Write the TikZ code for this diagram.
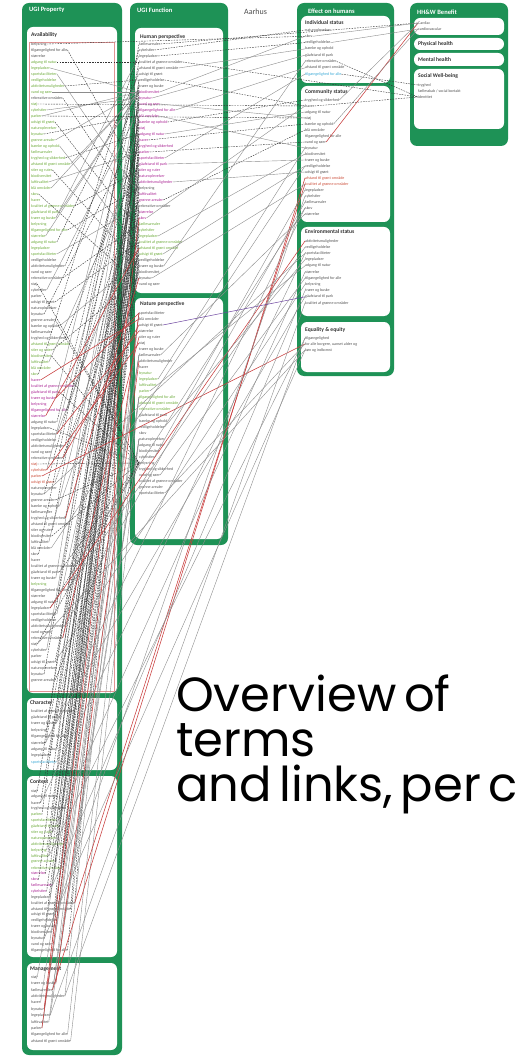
\documentclass[tikz,border=0pt]{standalone}
\usepackage{fontspec}
\newfontfamily\carl{Carlito}
\newfontfamily\titlef{Poppins}[WordSpace=0.6]
\definecolor{ugigreen}{RGB}{30,146,86}
\definecolor{idark}{RGB}{85,85,85}
\definecolor{igreen}{RGB}{110,172,60}
\definecolor{imag}{RGB}{172,40,150}
\definecolor{ired}{RGB}{205,80,60}
\definecolor{icyan}{RGB}{60,170,215}
\definecolor{lred}{RGB}{200,60,60}
\definecolor{lpurp}{RGB}{110,70,160}
\newcommand\itemtext[1]{\ifcase#1 afstand til grønt område\or adgang til natur\or grønne arealer\or træer og buske\or parker\or skov\or vand og søer\or stier og ruter\or legepladser\or bænke og ophold\or belysning\or udsigt til grønt\or haver\or rekreative områder\or biodiversitet\or sportsfaciliteter\or fællesarealer\or tilgængelighed for alle\or naturoplevelser\or kvalitet af grønne områder\or støj\or luftkvalitet\or vedligeholdelse\or tryghed og sikkerhed\or størrelse\or bynatur\or gåafstand til park\or cykelstier\or blå områder\or aktivitetsmuligheder\fi}
\newcommand\setcol[3]{\ifnum\i>\numexpr#1-1\relax\ifnum\i<\numexpr#2+1\relax\def\icol{#3}\fi\fi}
\begin{document}
\begin{tikzpicture}[x=1pt,y=-1pt,
  panel/.style={fill=ugigreen,rounded corners=7pt},
  wbox/.style={fill=white,rounded corners=6pt},
  hdr/.style={anchor=west,inner sep=0pt,text=white,font=\carl\bfseries\fontsize{6.5}{7}\selectfont},
  bhdr/.style={anchor=west,inner sep=0pt,text=black!80,font=\carl\bfseries\fontsize{5.6}{6}\selectfont},
  item/.style={anchor=west,inner sep=0pt,font=\carl\fontsize{4}{4.5}\selectfont},
  lk/.style={line width=0.4pt,draw=black!80,dash pattern=on 1.6pt off 1.1pt},
  lg/.style={line width=0.4pt,draw=black!45},
  lr/.style={line width=0.55pt,draw=lred},
  lp/.style={line width=0.5pt,draw=lpurp}]
\useasboundingbox (0,0) rectangle (519,1056);
\begin{scope}
\clip (0,0) rectangle (519,1056);
% panels
\fill[panel] (22,3) rectangle (122,1055);
\fill[panel] (130,3) rectangle (228,545);
\fill[panel] (297,3) rectangle (394,376);
\fill[panel] (410,3) rectangle (508,146);
% white boxes
\fill[wbox] (27,27) rectangle (117,693);
\fill[wbox] (27,698) rectangle (117,770);
\fill[wbox] (27,776) rectangle (117,957);
\fill[wbox] (27,963) rectangle (117,1050);
\fill[wbox] (135,28) rectangle (223,293);
\fill[wbox] (135,298) rectangle (223,539);
\fill[wbox] (301,16) rectangle (390,83);
\fill[wbox] (301,86) rectangle (390,222);
\fill[wbox] (301,227) rectangle (390,316);
\fill[wbox] (301,322) rectangle (390,372);
\fill[wbox] (414,18) rectangle (504,35);
\fill[wbox] (414,38) rectangle (504,50);
\fill[wbox] (414,53) rectangle (504,66);
\fill[wbox] (414,69) rectangle (504,129);
\draw[lred!55,line width=0.5pt] (29,42) rectangle (114,691);
% headers
\node[hdr] (hP) at (29,10) {UGI Property};
\node[hdr] (hF) at (137,10) {UGI Function};
\node[hdr] (hE) at (308,11) {Effect on humans};
\node[hdr] (hB) at (417,12) {HH\&W Benefit};
\node[anchor=west,inner sep=0pt,text=black!70,font=\carl\fontsize{8}{9}\selectfont] (city) at (244,12) {Aarhus};
\node[bhdr] (bAv) at (31,35) {Availability};
\node[bhdr] (bCh) at (30,703) {Character};
\node[bhdr] (bCx) at (30,782) {Context};
\node[bhdr] (bMg) at (30,969) {Management};
\node[bhdr] (bHp) at (140,37) {Human perspective};
\node[bhdr] (bNp) at (140,304) {Nature perspective};
\node[bhdr] (bIs) at (305,23) {Individual status};
\node[bhdr] (bCs) at (305,92) {Community status};
\node[bhdr] (bEs) at (305,232) {Environmental status};
\node[bhdr] (bEq) at (305,330) {Equality \& equity};
\node[bhdr] (bPh) at (418,44) {Physical health};
\node[bhdr] (bMh) at (418,60) {Mental health};
\node[bhdr] (bSw) at (418,76) {Social Well-being};
% items: availability
\foreach \i in {1,...,107}{
  \pgfmathtruncatemacro\w{mod(\i*7+3,30)}
  \def\icol{idark}
  \setcol{4}{9}{igreen}\setcol{11}{36}{igreen}\setcol{51}{56}{igreen}
  \setcol{57}{63}{imag}\setcol{71}{74}{ired}\setcol{91}{91}{igreen}
  \node[item,text=\icol] (a\i) at (31,{44+6*(\i-1)}) {\itemtext{\w}};
}
% human perspective
\foreach \i in {1,...,41}{
  \pgfmathtruncatemacro\w{mod(\i*11+5,30)}
  \def\icol{idark}
  \setcol{9}{30}{imag}\setcol{25}{25}{idark}\setcol{28}{28}{idark}\setcol{31}{36}{igreen}
  \node[item,text=\icol] (hp\i) at (139,{44+6*(\i-1)}) {\itemtext{\w}};
}
% nature perspective
\foreach \i in {1,...,31}{
  \pgfmathtruncatemacro\w{mod(\i*13+2,30)}
  \def\icol{idark}
  \setcol{11}{17}{igreen}
  \node[item,text=\icol] (np\i) at (139,{313+6*(\i-1)}) {\itemtext{\w}};
}
% individual status
\foreach \i in {1,...,8}{
  \pgfmathtruncatemacro\w{mod(\i*17+1,30)}
  \def\icol{idark}
  \setcol{8}{8}{icyan}
  \node[item,text=\icol] (is\i) at (305,{30+6.3*(\i-1)}) {\itemtext{\w}};
}
% community status
\foreach \i in {1,...,20}{
  \pgfmathtruncatemacro\w{mod(\i*19+4,30)}
  \def\icol{idark}
  \setcol{14}{15}{ired}
  \node[item,text=\icol] (cs\i) at (305,{100+6*(\i-1)}) {\itemtext{\w}};
}
% environmental status
\foreach \i in {1,...,11}{
  \pgfmathtruncatemacro\w{mod(\i*23+6,30)}
  \node[item,text=idark] (es\i) at (305,{241+6.2*(\i-1)}) {\itemtext{\w}};
}
\node[item,text=idark] (eq1) at (305,338) {tilgængelighed};
\node[item,text=idark] (eq2) at (305,344) {for alle borgere, uanset alder og};
\node[item,text=idark] (eq3) at (305,350) {køn og indkomst};
\node[item,text=idark] (hb1) at (418,23) {Cardiac};
\node[item,text=idark] (hb2) at (418,29) {cardiovascular};
\node[item,text=idark] (sw1) at (418,85) {tryghed};
\node[item,text=idark] (sw2) at (418,91) {fællesskab / social kontakt};
\node[item,text=idark] (sw3) at (418,97) {identitet};
% character
\foreach \i in {1,...,9}{
  \pgfmathtruncatemacro\w{mod(\i*7+12,30)}
  \def\icol{idark}
  \setcol{9}{9}{icyan}
  \node[item,text=\icol] (ch\i) at (31,{711+6.4*(\i-1)}) {\itemtext{\w}};
}
% context
\foreach \i in {1,...,28}{
  \pgfmathtruncatemacro\w{mod(\i*11+9,30)}
  \def\icol{idark}
  \setcol{5}{14}{igreen}\setcol{15}{18}{imag}
  \node[item,text=\icol] (cx\i) at (31,{791+5.9*(\i-1)}) {\itemtext{\w}};
}
% management
\foreach \i in {1,...,11}{
  \pgfmathtruncatemacro\w{mod(\i*13+7,30)}
  \node[item,text=idark] (mg\i) at (31,{977+6.4*(\i-1)}) {\itemtext{\w}};
}
% ---------- links ----------
\foreach \k in {2,4,...,106}{
  \pgfmathtruncatemacro\j{1+mod(\k*11,41)}
  \pgfmathtruncatemacro\r{mod(\k,3)}
  \ifnum\r=0 \draw[lg] (a\k.east) -- (hp\j.west);\else \draw[lk] (a\k.east) -- (hp\j.west);\fi
}
\foreach \k in {5,9,13,17,21,25,29,33}{\draw[lg] (a\k.east) -- (hp9.west);}
\foreach \k in {41,47,...,107}{
  \pgfmathtruncatemacro\j{1+mod(\k*5,30)}
  \draw[lk] (a\k.east) -- (np\j.west);
}
\foreach \k in {1,...,28}{
  \pgfmathtruncatemacro\j{6+mod(\k*7,34)}
  \draw[lk] (cx\k.east) -- (hp\j.west);
}
\foreach \k in {1,...,9}{
  \pgfmathtruncatemacro\j{10+mod(\k*9,30)}
  \draw[lk] (ch\k.east) -- (hp\j.west);
}
\foreach \k in {1,...,11}{
  \pgfmathtruncatemacro\j{1+mod(\k*7,28)}
  \draw[lg] (mg\k.east) -- (np\j.west);
}
% red links
\foreach \s/\t in {a57/np2,a60/np1,a63/hp35,a66/np4,a70/np3,a72/np6,a80/hp40,a100/np5,a95/es1,a73/eq2,mg3/cs14,mg6/hp30,mg9/np1,cx20/cs15,mg2/np9,cs8/hb1}
  {\draw[lr] (\s.east) -- (\t.west);}
% long grey links
\foreach \s/\t in {cx3/es3,cx8/es6,cx12/eq1,cx17/es9,cx22/cs17,cx26/eq3,a85/cs12,a92/es2,a98/cs18,a104/es8,mg4/eq1,mg7/es11,np12/cs9,np20/es4,np25/cs16,np28/es7,np31/eq2,np8/cs20,np14/es5,ch3/es10,ch6/cs19,a76/es3,a88/cs19,a101/eq3}
  {\draw[lg] (\s.east) -- (\t.west);}
\draw[lp] (np3.east) -- (es10.west);
% human perspective to effects
\foreach \s/\t in {hp2/is1,hp3/is3,hp14/cs1,hp17/cs5,hp19/cs8,hp27/cs6,hp4/sw3,hp7/cs2,a1/is2,hp1/hb1,a11/cs2,a13/cs4,is6/sw3,is8/sw1,cs2/sw3}
  {\draw[lk] (\s.east) -- (\t.west);}
\foreach \s/\t in {hp5/is4,hp9/is2,hp10/is5,hp12/is7,hp16/cs3,hp21/cs11,hp24/cs13,hp30/cs2,hp33/cs10,hp36/cs12,hp38/is6,hp40/cs15,hp20/is8,hp11/cs4,hp13/cs9,is2/hb1,is3/hb2,cs1/hb1,cs5/hb2}
  {\draw[lg] (\s.east) -- (\t.west);}
% title
\node[anchor=north west,align=left,inner sep=0pt,text=black,font=\titlef\fontsize{48}{45}\selectfont] (title) at (176,675) {Overview of\\terms\\and links, per c};
\end{scope}
\end{tikzpicture}
\end{document}
